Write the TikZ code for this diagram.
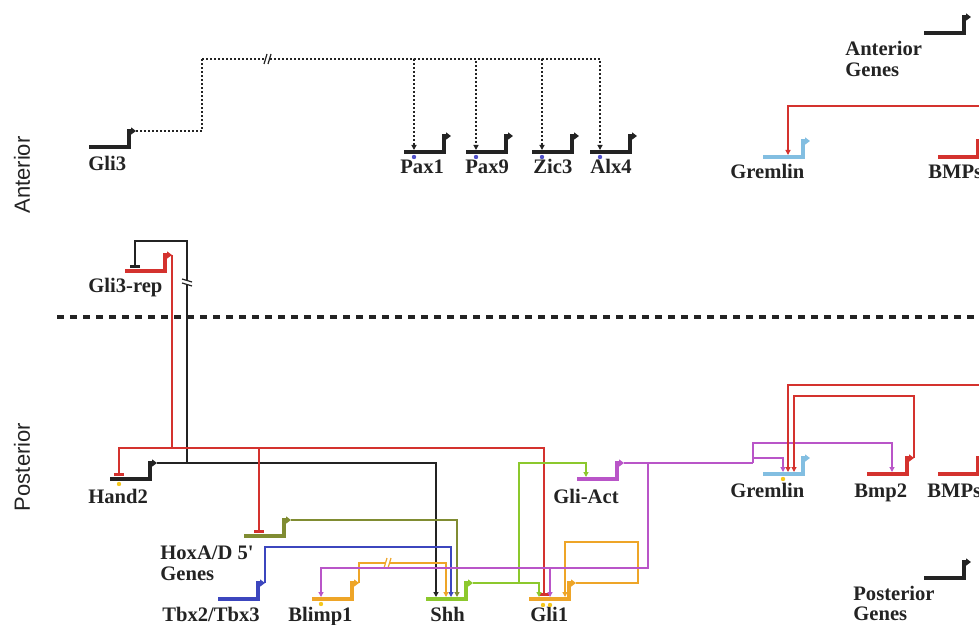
\documentclass[tikz,border=0pt]{standalone}
\usepackage{fontspec}
\setmainfont{Liberation Serif}
\newfontfamily\regionfont{Liberation Sans}
\usetikzlibrary{arrows.meta, calc}

\definecolor{hblack}{RGB}{35,35,35}
\definecolor{hred}{RGB}{212,50,46}
\definecolor{hsky}{RGB}{130,190,225}
\definecolor{holive}{RGB}{128,140,50}
\definecolor{hindigo}{RGB}{60,70,190}
\definecolor{horange}{RGB}{238,165,40}
\definecolor{hmag}{RGB}{185,85,200}
\definecolor{hlime}{RGB}{140,200,45}
\definecolor{hyel}{RGB}{245,200,30}
\definecolor{hdot}{RGB}{80,80,200}

\begin{document}
\begin{tikzpicture}[x=0.5pt, y=-0.5pt]
    \tikzset{
      geneline/.style={line width=1.6pt, -{Triangle[length=2.5pt,width=3.5pt]}},
      gene/.pic={\draw[geneline,#1] (-40,0) -- (0,0) coordinate (-end) -- (0,-16) -- (7,-16) coordinate (-tip);},
      brk/.pic={
        \fill[white] (-4,5) -- (-1,-5) -- (3,-5) -- (0,5) -- cycle;
        \draw[line width=0.6pt,#1] (-4,5) -- (-1,-5) (0,5) -- (3,-5);
      },
      wire/.style={line width=0.8pt},
      link/.style={wire, -{Triangle[length=2.5pt,width=2.5pt]}},
      block/.style={wire, -{Bar[width=5pt,line width=1.3pt]}},
      dotline/.style={line width=0.9pt, dash pattern=on 0.8pt off 1.2pt, hblack},
      lbl/.style={font=\fontsize{10.3}{12}\selectfont\bfseries, text=hblack, anchor=base west, inner sep=0pt},
      region/.style={font=\regionfont\fontsize{11}{13}\selectfont, text=hblack, rotate=90, inner sep=0pt}
    }
    \useasboundingbox (0,0) rectangle (979,625);
    \clip (0,0) rectangle (979,625);

    % Regions
    \node[region] (ant) at (22,175) {Anterior};
    \node[region] (post) at (22,467) {Posterior};
    \draw[line width=2pt, hblack, dash pattern=on 3.5pt off 3pt] (57,317) -- (979,317);

    % Anterior genes
    \pic (gli3) at (129,147) {gene=hblack};
    \pic (pax1) at (444,152) {gene=hblack};
    \pic (pax9) at (506,152) {gene=hblack};
    \pic (zic3) at (572,152) {gene=hblack};
    \pic (alx4) at (630,152) {gene=hblack};
    \pic (grem1) at (803,157) {gene=hsky};
    \pic (bmps1) at (978,157) {gene=hred};
    \pic (antleg) at (964,33) {gene=hblack};
    \pic (g3r) at (165,271) {gene=hred};

    % Posterior genes
    \pic (hand2) at (150,479) {gene=hblack};
    \pic (hoxd) at (284,536) {gene=holive};
    \pic (tbx) at (258,599) {gene=hindigo};
    \pic (blimp) at (352,599) {gene=horange};
    \pic (shh) at (466,599) {gene=hlime};
    \pic (gli1) at (569,599) {gene=horange};
    \pic (gliact) at (617,479) {gene=hmag};
    \pic (grem2) at (803,474) {gene=hsky};
    \pic (bmp2) at (907,474) {gene=hred};
    \pic (bmps2) at (978,474) {gene=hred};
    \pic (postleg) at (964,578) {gene=hblack};

    % Labels
    \node[lbl] (l-gli3) at (88,171) {Gli3};
    \node[lbl] (l-pax1) at (400,174) {Pax1};
    \node[lbl] (l-pax9) at (465,174) {Pax9};
    \node[lbl] (l-zic3) at (533,174) {Zic3};
    \node[lbl] (l-alx4) at (590,174) {Alx4};
    \node[lbl] (l-grem1) at (730,179) {Gremlin};
    \node[lbl] (l-bmps1) at (928,179) {BMPs};
    \node[lbl] (l-ant1) at (845,56) {Anterior};
    \node[lbl] (l-ant2) at (845,77) {Genes};
    \node[lbl] (l-g3r) at (88,293) {Gli3-rep};
    \node[lbl] (l-hand2) at (88,503) {Hand2};
    \node[lbl] (l-gliact) at (553,503) {Gli-Act};
    \node[lbl] (l-grem2) at (730,497) {Gremlin};
    \node[lbl] (l-bmp2) at (854,497) {Bmp2};
    \node[lbl] (l-bmps2) at (927,497) {BMPs};
    \node[lbl] (l-hoxd1) at (160,559) {HoxA/D 5\textquotesingle};
    \node[lbl] (l-hoxd2) at (160,580) {Genes};
    \node[lbl] (l-tbx) at (162,621) {Tbx2/Tbx3};
    \node[lbl] (l-blimp) at (288,621) {Blimp1};
    \node[lbl] (l-shh) at (430,621) {Shh};
    \node[lbl] (l-gli1) at (530,621) {Gli1};
    \node[lbl] (l-post1) at (853,600) {Posterior};
    \node[lbl] (l-post2) at (853,620) {Genes};

    % Gli3 to its targets
    \coordinate (dtop) at ($(gli3-tip)+(66,-72)$);
    \draw[dotline] (gli3-tip) -| (dtop);
    \foreach \g in {pax1,pax9,zic3,alx4} {
      \draw[dotline, -{Triangle[length=2.5pt,width=2.5pt]}] (dtop) -| ($(\g-end)+(-30,-2)$);
      \fill[hdot] ($(\g-end)+(-30,5)$) circle (2.2);
    }
    \pic at (268,59) {brk=hblack};
    \draw[link,hred] (bmps1-tip) -- ++(10,0) -- ++(0,-35) -| ($(grem1-end)+(-15,-2)$);

    % Hand2 and Gli3-rep
    \coordinate (hj) at ($(hand2-tip)+(30,0)$);
    \draw[link,hblack] (hand2-tip) -| ($(shh-end)+(-30,-2)$);
    \draw[block,hblack] (hj) -- ++(0,-222) -| ($(g3r-end)+(-30,-3)$);
    \pic[rotate=90] at (187,282) {brk=hblack};
    \coordinate (rbus) at ($(g3r-tip)+(0,193)$);
    \draw[wire,hred] (g3r-tip) -- (rbus);
    \draw[block,hred] (rbus) -| ($(hand2-end)+(-31,-3)$);
    \draw[block,hred] (rbus) -| ($(hoxd-end)+(-25,-3)$);
    \draw[block,hred] (rbus) -| ($(gli1-end)+(-25,-3)$);

    % Inputs to Shh
    \draw[link,holive] (hoxd-tip) -| ($(shh-end)+(-9,-2)$);
    \draw[link,hindigo] (tbx-tip) -- ++(0,-36) -| ($(shh-end)+(-15,-2)$);
    \draw[link,horange] (blimp-tip) -- ++(0,-20) -| ($(shh-end)+(-20,-2)$);
    \pic at (388,563) {brk=horange};

    % Shh, Gli1 and Gli-Act
    \draw[link,hlime] (shh-tip) -| ($(gli1-end)+(-30,-2)$);
    \draw[link,hlime] ($(shh-tip)+(46,0)$) -- ++(0,-120) -| ($(gliact-end)+(-31,-2)$);
    \draw[link,horange] (gli1-tip) -- ++(62,0) -- ++(0,-41) -| ($(gli1-end)+(-4,-2)$);
    \coordinate (mj) at ($(gliact-tip)+(129,0)$);
    \coordinate (mk) at ($(gliact-tip)+(24,0)$);
    \draw[wire,hmag] (gliact-tip) -- (mj);
    \draw[link,hmag] (mk) -- ++(0,105) -| ($(blimp-end)+(-31,-2)$);
    \draw[link,hmag] ($(mk)+(-98,105)$) -- ($(gli1-end)+(-19,-2)$);
    \draw[link,hmag] (mj) -- ++(0,-20) -| ($(bmp2-end)+(-15,-2)$);
    \draw[link,hmag] ($(mj)+(0,-5)$) -| ($(grem2-end)+(-20,-2)$);

    % BMPs and Gremlin
    \draw[link,hred] (bmp2-tip) -- ++(0,-62) -| ($(grem2-end)+(-9,-2)$);
    \draw[link,hred] (bmps2-tip) -- ++(10,0) -- ++(0,-73) -| ($(grem2-end)+(-15,-2)$);

    % Yellow marks
    \fill[hyel] ($(hand2-end)+(-31,5)$) circle (2.2);
    \fill[hyel] ($(blimp-end)+(-31,5)$) circle (2.2);
    \fill[hyel] ($(gli1-end)+(-26,6)$) circle (2.2);
    \fill[hyel] ($(gli1-end)+(-19,6)$) circle (2.2);
    \fill[hyel] ($(grem2-end)+(-20,5)$) circle (2.2);
  \end{tikzpicture}
\end{document}
